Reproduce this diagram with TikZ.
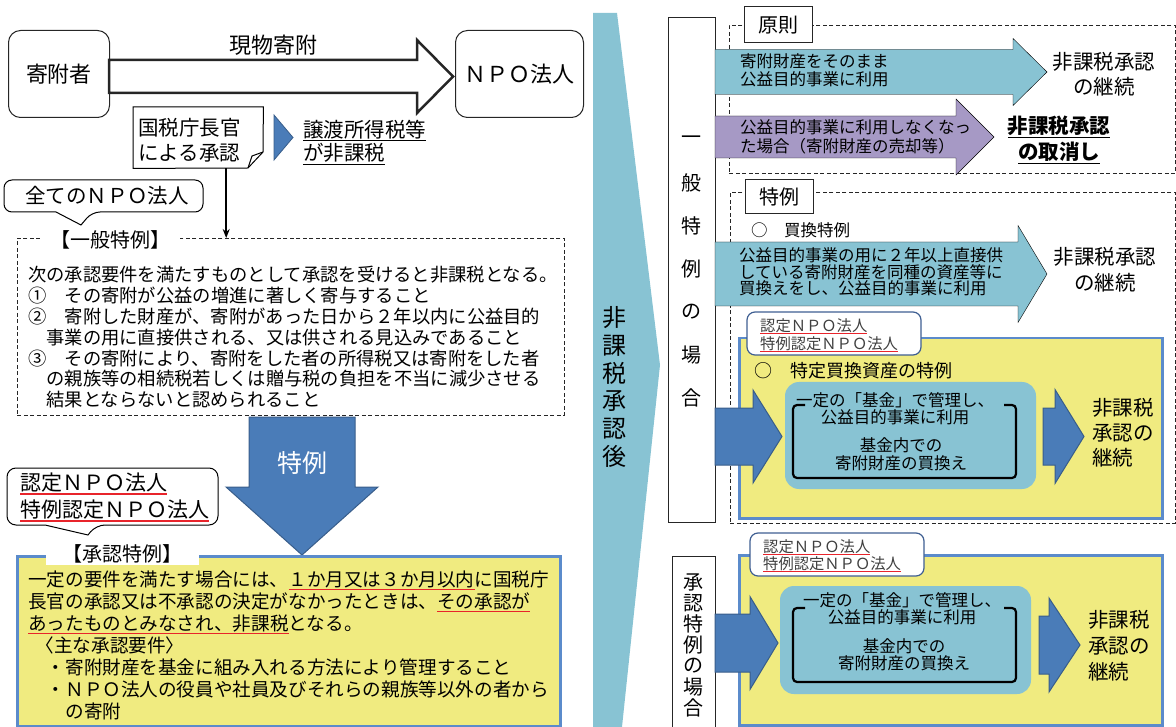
\documentclass[tikz,border=0pt]{standalone}
\usepackage{fontspec}
\setmainfont{Noto Sans CJK JP}
\usetikzlibrary{arrows.meta}

\definecolor{cTeal}{HTML}{88C3D3}
\definecolor{cBlue}{HTML}{4A7CB8}
\definecolor{cBlueDark}{HTML}{385D8A}
\definecolor{cPurple}{HTML}{A699C5}
\definecolor{cYellow}{HTML}{F0EB80}
\definecolor{cFrame}{HTML}{5B8BCB}
\definecolor{cTagLine}{HTML}{3F5F92}
\definecolor{cRed}{HTML}{E8242B}

\newcommand{\fs}[2]{\fontsize{#1pt}{#2pt}\selectfont}
\newsavebox{\ulbox}
\newcommand{\lineunder}[2][black]{\sbox{\ulbox}{#2}\rlap{\color{#1}\rule[-0.2em]{\wd\ulbox}{1.3pt}}\usebox{\ulbox}}
% block arrow: x start, x head, x tip, y middle, half body, half head
\newcommand{\blockarrow}[7][]{\draw[#1] (#2,{#5-#6}) -- (#3,{#5-#6}) -- (#3,{#5-#7}) -- (#4,#5) -- (#3,{#5+#7}) -- (#3,{#5+#6}) -- (#2,{#5+#6}) -- cycle;}

\tikzset{
  rbox/.style={draw=black!85, line width=1pt, rounded corners=12pt, fill=white},
  dashbox/.style={draw=black!85, line width=0.9pt, dash pattern=on 4pt off 2.5pt},
  tag/.style={draw=black!85, line width=1pt, fill=white, inner sep=0pt},
  ybox/.style={draw=cFrame, line width=2.5pt, fill=cYellow, inner sep=0pt},
  txt/.style={inner sep=0pt, align=left},
  ctxt/.style={inner sep=0pt, align=center},
  bluearrow/.style={fill=cBlue, draw=cBlueDark, line width=1pt},
  tealarrow/.style={fill=cTeal},
  lilacarrow/.style={fill=cPurple},
  hollowarrow/.style={fill=white, draw=black!85, line width=2.5pt},
  smalltag/.style={draw=cTagLine, line width=1.2pt, rounded corners=8pt, fill=white},
}

\begin{document}
\begin{tikzpicture}[x=1pt,y=-1pt]
  \useasboundingbox (0,0) rectangle (1176,727);

  % left half: donation
  \node[rbox, anchor=north west, minimum width=101pt, minimum height=87pt, font=\fs{22}{26}] (giver) at (8,30) {寄附者};
  \node[rbox, anchor=north west, minimum width=128pt, minimum height=87pt, font=\fs{22}{26}] (npo) at (455,30) {ＮＰＯ法人};
  \blockarrow[hollowarrow]{109}{417}{453}{76.5}{16.5}{36.5}
  \node[font=\fs{22}{26}] (inkind) at (273,45) {現物寄附};

  \node[anchor=north west, minimum width=130pt, minimum height=61pt, inner sep=0pt] (note) at (133,107) {};
  \draw[fill=white, line width=1pt] (note.north west) -- (note.north east) -- (263,152) -- (248,168) -- (note.south west) -- cycle;
  \draw[line width=1pt] (263,152) -- (252,156) -- (248,168);
  \node[txt, anchor=north west, font=\fs{20.5}{25}] (notetext) at (138,117.75) {国税庁長官\\による承認};
  \draw[bluearrow, line width=0.8pt] (274,115) -- (293,137.5) -- (274,160) -- cycle;
  \node[txt, anchor=north west, font=\fs{20.5}{23.5}] (exempt) at (303,119.75) {\lineunder{譲渡所得税等}\\\lineunder{が非課税}};

  \draw[fill=white, line width=1pt, rounded corners=8pt] (4,180) -- (203,180) -- (203,212) -- (92,212) [sharp corners] -- (81,225) -- (56,212) [rounded corners=8pt] -- (4,212) -- cycle;
  \node[font=\fs{20.5}{24}] (allnpo) at (107,196) {全てのＮＰＯ法人};

  \node[dashbox, anchor=north west, minimum width=547pt, minimum height=177pt] (general) at (17,238) {};
  \node[fill=white, inner xsep=10pt, inner ysep=1pt, font=\fs{20}{24}] (gentitle) at (110,240) {【一般特例】};
  \draw[line width=1.5pt, -{Stealth[length=9pt,width=7pt]}] ([xshift=28pt]note.south) -- ([xshift=28pt]note.south |- general.north);
  \node[txt, anchor=north west, font=\fs{18.3}{20.9}] (gentext) at (28,265.85) {次の承認要件を満たすものとして承認を受けると非課税となる。\\
    ①　その寄附が公益の増進に著しく寄与すること\\
    ②　寄附した財産が、寄附があった日から２年以内に公益目的\\
    　事業の用に直接供される、又は供される見込みであること\\
    ③　その寄附により、寄附をした者の所得税又は寄附をした者\\
    　の親族等の相続税若しくは贈与税の負担を不当に減少させる\\
    　結果とならないと認められること};

  \draw[bluearrow] (249,417) -- (355,417) -- (355,487) -- (378,487) -- (302,555) -- (226,487) -- (249,487) -- cycle;
  \node[white, font=\fs{25}{30}] (exlabel) at (302,463) {特例};

  \node[ybox, anchor=north west, minimum width=543pt, minimum height=170pt] (approval) at (16,555) {};
  \draw[fill=white, line width=1pt, rounded corners=9pt] (7,468) -- (218,468) -- (218,525) -- (96,525) [sharp corners] -- (88,535) -- (45,525) [rounded corners=9pt] -- (7,525) -- cycle;
  \node[txt, anchor=north west, font=\fs{21}{27}] (certleft) at (20,472.5) {\lineunder[cRed]{認定ＮＰＯ法人}\\\lineunder[cRed]{特例認定ＮＰＯ法人}};
  \node[fill=white, minimum width=153pt, minimum height=23pt, inner sep=0pt, font=\fs{20}{24}] (apptitle) at (122.5,553.5) {【承認特例】};
  \node[txt, anchor=north west, font=\fs{18.6}{22}] (apptext) at (28,570.7) {一定の要件を満たす場合には、\lineunder[cRed]{１か月又は３か月以内}に国税庁\\
    長官の承認又は不承認の決定がなかったときは、\lineunder[cRed]{その承認が}\\
    \lineunder[cRed]{あったものとみなされ、非課税}となる。\\
    \hspace{0.4em}〈主な承認要件〉\\
    　・寄附財産を基金に組み入れる方法により管理すること\\
    　・ＮＰＯ法人の役員や社員及びそれらの親族等以外の者から\\
    　　の寄附};

  % middle: after approval
  \fill[cTeal] (593,13) -- (617,13) -- (660,365) -- (622,727) -- (593,727) -- cycle;
  \foreach \c [count=\i] in {非,課,税,承,認,後}
    \node[font=\fs{24}{24}] (after\i) at (614,{318+27.6*(\i-1)}) {\c};

  % right half: general case
  \node[tag, anchor=north west, minimum width=47pt, minimum height=505pt] (genside) at (668,17) {};
  \foreach \c [count=\i] in {一,般,特,例,の,場,合}
    \node[font=\fs{20}{20}] (genchar\i) at (691.5,{140+43*(\i-1)}) {\c};

  \node[dashbox, anchor=north west, minimum width=446pt, minimum height=148pt] (principle) at (729,25) {};
  \node[tag, minimum width=68pt, minimum height=36pt, font=\fs{20}{24}] (principletag) at (778.5,25) {原則};
  \blockarrow[tealarrow]{715}{1013}{1047}{72}{22.5}{33.5}
  \node[txt, anchor=north west, font=\fs{16.5}{18}] (keeptext) at (740,53.75) {寄附財産をそのまま\\公益目的事業に利用};
  \node[ctxt, font=\fs{20.5}{25}] (keep) at (1104,74.5) {非課税承認\\の継続};
  \blockarrow[lilacarrow]{715}{956}{994}{137}{21}{38}
  \node[txt, anchor=north west, font=\fs{16.5}{19}] (losetext) at (740,119.75) {公益目的事業に利用しなくなっ\\た場合（寄附財産の売却等）};
  \node[ctxt, font=\bfseries\fs{20.5}{26}] (lose) at (1059,140) {\lineunder{非課税承認}\\\lineunder{の取消し}};

  \node[dashbox, anchor=north west, minimum width=445pt, minimum height=331pt] (special) at (730,192) {};
  \node[tag, minimum width=68pt, minimum height=34pt, font=\fs{20}{24}] (specialtag) at (779,197) {特例};
  \node[anchor=west, inner sep=0pt, font=\fs{16.5}{18}] (swap) at (751,230) {○　買換特例};
  \blockarrow[tealarrow]{715}{1018}{1047}{274}{32}{48.5}
  \node[txt, anchor=north west, font=\fs{16.5}{16.5}] (swaptext) at (739,247.75) {公益目的事業の用に２年以上直接供\\している寄附財産を同種の資産等に\\買換えをし、公益目的事業に利用};
  \node[ctxt, font=\fs{20.5}{26}] (swapkeep) at (1105,270) {非課税承認\\の継続};

  \node[ybox, anchor=north west, minimum width=423pt, minimum height=180pt] (fundbox) at (738,337) {};
  \draw[smalltag] (747,312) rectangle (921,355);
  \node[txt, anchor=north west, text=black!75, font=\fs{15.3}{18}] (certup) at (760,318.35) {\lineunder[cRed]{認定ＮＰＯ法人}\\\lineunder[cRed]{特例認定ＮＰＯ法人}};
  \node[anchor=west, inner sep=0pt, font=\fs{18}{20}] (fundtitle) at (754,371) {○　特定買換資産の特例};
  \blockarrow[bluearrow]{715}{753}{782}{436.5}{28.5}{46.5}
  \fill[cTeal, rounded corners=14pt] (785,382) rectangle (1036,489);
  \draw[line width=2.2pt, rounded corners=4pt] (805,405) -- (793,405) -- (793,478) -- (1016,478) -- (1016,405) -- (1004,405);
  \node[ctxt, font=\fs{16.5}{17}] (fundtext) at (895,408.5) {一定の「基金」で管理し、\\公益目的事業に利用};
  \node[ctxt, font=\fs{16.5}{18}] (fundswap) at (901,454) {基金内での\\寄附財産の買換え};
  \blockarrow[bluearrow]{1043}{1055}{1084}{436.5}{28.5}{47}
  \node[txt, anchor=north west, font=\fs{20.5}{25}] (fundkeep) at (1092,397.75) {非課税\\承認の\\継続};

  % right half: approval special case
  \node[tag, anchor=north west, minimum width=43pt, minimum height=180pt] (appside) at (672,556) {};
  \foreach \c [count=\i] in {承,認,特,例,の,場,合}
    \node[font=\fs{20}{20}] (appchar\i) at (693.5,{582+21*(\i-1)}) {\c};

  \node[ybox, anchor=north west, minimum width=423pt, minimum height=170pt] (fundbox2) at (738,554) {};
  \draw[smalltag] (750,533) rectangle (924,576);
  \node[txt, anchor=north west, text=black!75, font=\fs{15.3}{17}] (certdown) at (763,539.35) {\lineunder[cRed]{認定ＮＰＯ法人}\\\lineunder[cRed]{特例認定ＮＰＯ法人}};
  \blockarrow[bluearrow]{715}{750}{778}{643}{29}{46.5}
  \fill[cTeal, rounded corners=14pt] (780,586) rectangle (1031,694);
  \draw[line width=2.2pt, rounded corners=4pt] (805,608) -- (793,608) -- (793,682) -- (1016,682) -- (1016,608) -- (1004,608);
  \node[ctxt, font=\fs{16.5}{17}] (fundtext2) at (902,608.5) {一定の「基金」で管理し、\\公益目的事業に利用};
  \node[ctxt, font=\fs{16.5}{17}] (fundswap2) at (904,654.5) {基金内での\\寄附財産の買換え};
  \blockarrow[bluearrow]{1039}{1049}{1080}{645}{29}{47}
  \node[txt, anchor=north west, font=\fs{20.5}{26}] (fundkeep2) at (1088,609.75) {非課税\\承認の\\継続};
\end{tikzpicture}
\end{document}
